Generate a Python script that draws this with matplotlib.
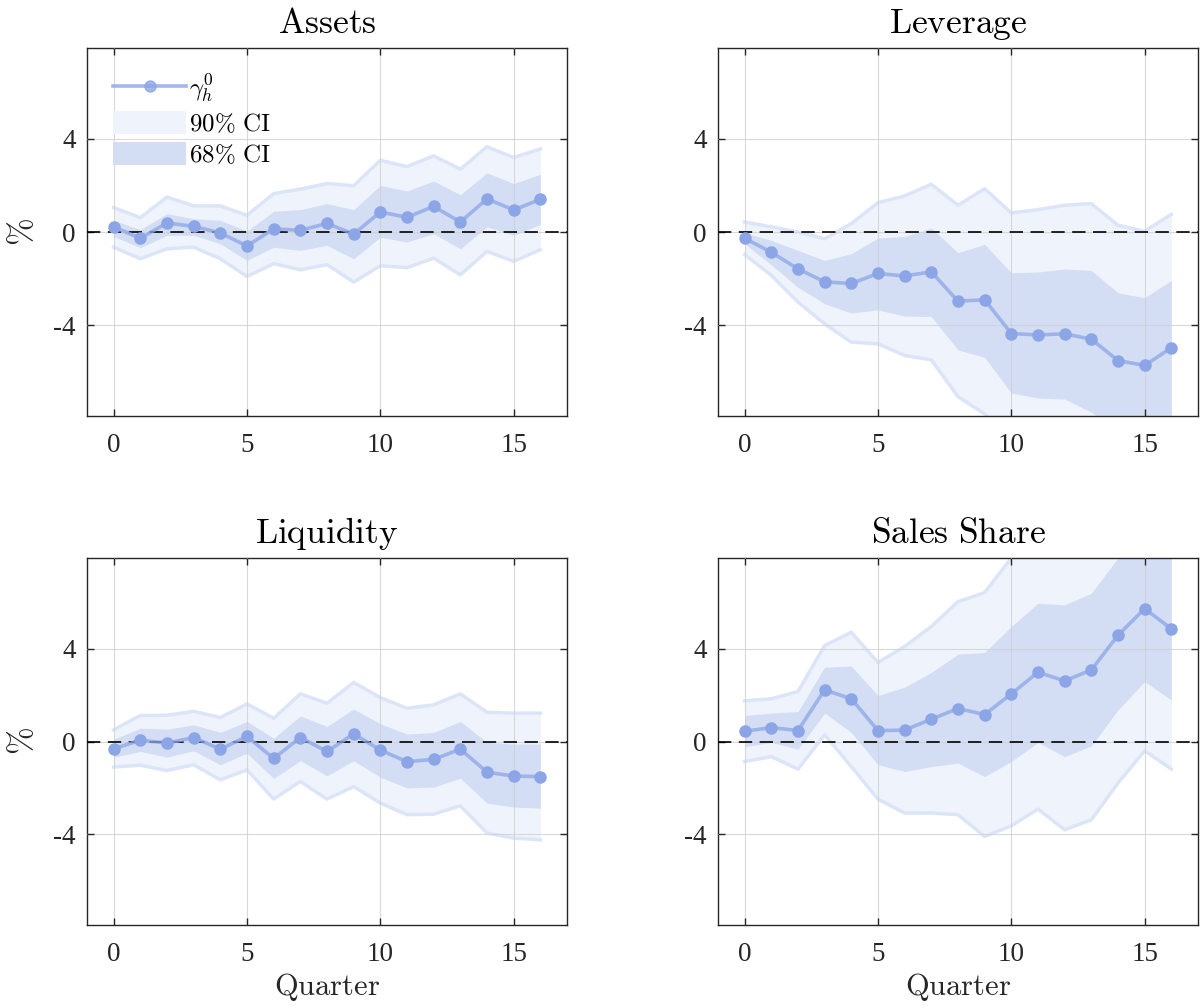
import numpy as np
import matplotlib
matplotlib.use("Agg")
import matplotlib.pyplot as plt
from matplotlib.patches import Patch
from matplotlib.lines import Line2D

plt.rcParams['font.family'] = ['Liberation Serif', 'DejaVu Serif']
plt.rcParams['mathtext.fontset'] = 'cm'
plt.rcParams['axes.unicode_minus'] = False

horizon = np.arange(17)

# Assets
assets_irf = [0.22, -0.27, 0.39, 0.24, -0.04, -0.60, 0.14, 0.07, 0.37, -0.09, 0.86, 0.63, 1.10, 0.43, 1.42, 0.95, 1.40]
assets_hi90 = [1.05, 0.62, 1.50, 1.12, 1.12, 0.72, 1.65, 1.84, 2.08, 1.99, 3.08, 2.81, 3.27, 2.70, 3.66, 3.20, 3.57]
assets_lo90 = [-0.65, -1.15, -0.72, -0.65, -1.15, -1.91, -1.36, -1.62, -1.40, -2.15, -1.45, -1.53, -1.12, -1.84, -0.83, -1.26, -0.76]
assets_hi68 = [0.50, 0.10, 0.79, 0.57, 0.50, 0.04, 0.89, 0.96, 1.22, 0.96, 2.00, 1.76, 2.19, 1.60, 2.54, 2.08, 2.48]
assets_lo68 = [-0.19, -0.67, -0.14, -0.14, -0.50, -1.22, -0.65, -0.79, -0.57, -1.15, -0.22, -0.43, -0.07, -0.72, 0.22, -0.14, 0.33]

# Leverage
lev_irf = [-0.27, -0.87, -1.58, -2.14, -2.21, -1.78, -1.89, -1.71, -2.97, -2.91, -4.36, -4.42, -4.37, -4.60, -5.52, -5.73, -4.97]
lev_hi90 = [0.43, 0.22, 0.00, -0.29, 0.36, 1.26, 1.55, 2.05, 1.15, 1.86, 0.82, 0.96, 1.15, 1.22, 0.29, 0.03, 0.76]
lev_lo90 = [-0.97, -1.86, -3.01, -3.94, -4.73, -4.80, -5.30, -5.49, -7.07, -7.81, -9.0, -9.2, -9.5, -10.0, -11.0, -11.5, -11.0]
lev_hi68 = [-0.04, -0.36, -0.79, -1.22, -0.93, -0.26, -0.19, 0.17, -0.89, -0.53, -1.75, -1.72, -1.59, -1.65, -2.61, -2.82, -2.08]
lev_lo68 = [-0.50, -1.41, -2.37, -3.08, -3.48, -3.34, -3.61, -3.63, -5.06, -5.38, -6.91, -7.13, -7.17, -7.74, -8.5, -8.8, -9.0]

# Liquidity
liq_irf = [-0.32, 0.06, -0.07, 0.17, -0.33, 0.22, -0.73, 0.17, -0.43, 0.33, -0.37, -0.87, -0.77, -0.33, -1.32, -1.49, -1.51]
liq_hi90 = [0.50, 1.12, 1.13, 1.30, 1.03, 1.62, 1.00, 2.05, 1.65, 2.54, 1.89, 1.43, 1.58, 2.05, 1.26, 1.22, 1.22]
liq_lo90 = [-1.10, -1.02, -1.25, -1.00, -1.65, -1.22, -2.48, -1.72, -2.48, -1.94, -2.65, -3.15, -3.13, -2.77, -3.94, -4.16, -4.23]
liq_hi68 = [0.10, 0.57, 0.53, 0.72, 0.39, 0.86, 0.14, 1.10, 0.65, 1.40, 0.76, 0.32, 0.39, 0.86, -0.04, -0.11, -0.11]
liq_lo68 = [-0.67, -0.43, -0.67, -0.40, -1.00, -0.50, -1.59, -0.82, -1.48, -0.83, -1.53, -2.00, -1.96, -1.58, -2.65, -2.82, -2.87]

# Sales share
sales_irf = [0.44, 0.60, 0.47, 2.22, 1.84, 0.47, 0.49, 0.96, 1.42, 1.16, 2.05, 2.98, 2.61, 3.08, 4.57, 5.72, 4.85]
sales_hi90 = [1.75, 1.84, 2.15, 4.13, 4.70, 3.40, 4.09, 4.95, 6.02, 6.41, 7.90, 9.0, 9.5, 10.0, 10.5, 11.0, 11.5]
sales_lo90 = [-0.86, -0.65, -1.19, 0.29, -1.08, -2.48, -3.08, -3.08, -3.15, -4.09, -3.63, -2.91, -3.80, -3.37, -1.79, -0.40, -1.18]
sales_hi68 = [1.12, 1.22, 1.29, 3.20, 3.25, 1.98, 2.34, 2.97, 3.76, 3.83, 4.95, 5.95, 5.88, 6.38, 7.90, 9.0, 9.0]
sales_lo68 = [-0.22, -0.04, -0.33, 1.22, 0.39, -1.00, -1.29, -1.08, -0.93, -1.51, -0.86, -0.04, -0.65, -0.19, 1.36, 2.58, 1.79]

titles = ['Assets', 'Leverage', 'Liquidity', 'Sales Share']
panels = [
    (assets_irf, assets_lo90, assets_hi90, assets_lo68, assets_hi68),
    (lev_irf, lev_lo90, lev_hi90, lev_lo68, lev_hi68),
    (liq_irf, liq_lo90, liq_hi90, liq_lo68, liq_hi68),
    (sales_irf, sales_lo90, sales_hi90, sales_lo68, sales_hi68),
]

c_line = '#8ba5e6'
c_90 = '#eff3fb'
c_90edge = '#dce5f8'
c_68 = '#d3ddf4'
ink = '#262626'

fig = plt.figure(figsize=(12, 10.07), dpi=100)
positions = [
    [0.0725, 0.5869, 0.4, 0.3654],
    [0.5983, 0.5869, 0.4, 0.3654],
    [0.0725, 0.0814, 0.4, 0.3645],
    [0.5983, 0.0814, 0.4, 0.3645],
]

for k, (pos, title, data) in enumerate(zip(positions, titles, panels)):
    irf, lo90, hi90, lo68, hi68 = [np.array(d) for d in data]
    ax = fig.add_axes(pos)
    ax.fill_between(horizon, lo90, hi90, color=c_90, lw=0, zorder=1)
    ax.plot(horizon, hi90, color=c_90edge, lw=2.5, zorder=1.2)
    ax.plot(horizon, lo90, color=c_90edge, lw=2.5, zorder=1.2)
    ax.fill_between(horizon, lo68, hi68, color=c_68, lw=0, zorder=1.5)
    ax.axhline(0, color='black', lw=1.2, ls=(0, (8, 4.5)), zorder=2.6)
    ax.plot(horizon, irf, color=c_line, lw=2.6, alpha=0.75, zorder=3)
    ax.plot(horizon, irf, ls='none', marker='o', ms=8, color=c_line, zorder=3.1)

    ax.set_xlim(-1, 17)
    ax.set_ylim(-7.9, 7.9)
    ax.set_xticks([0, 5, 10, 15])
    ax.set_yticks([-4, 0, 4])
    ax.set_axisbelow(False)
    ax.grid(True, color='#d0d0d0', lw=0.8, alpha=0.8)
    ax.tick_params(direction='in', length=5, width=1, top=True, right=True,
                   labelsize=19.5, colors=ink)
    ax.tick_params(axis='x', pad=12)
    ax.tick_params(axis='y', pad=8)
    for sp in ax.spines.values():
        sp.set_color(ink)
        sp.set_linewidth(1.0)
    ax.set_title(r'$\mathrm{' + title.replace(' ', r'\ ') + '}$', fontsize=25.5, pad=11, color='black')
    if k % 2 == 0:
        ax.set_ylabel(r'$\%$', fontsize=24, color=ink, labelpad=10)
    if k >= 2:
        ax.set_xlabel(r'$\mathrm{Quarter}$', fontsize=22, color=ink, labelpad=3)

    if k == 0:
        handles = [
            Line2D([], [], color=c_line, lw=2.6, marker='o', ms=8, alpha=0.8),
            Patch(facecolor=c_90, edgecolor='none'),
            Patch(facecolor=c_68, edgecolor='none'),
        ]
        labels = [r'$\gamma_h^0$', r'$\mathrm{90\%\ CI}$', r'$\mathrm{68\%\ CI}$']
        ax.legend(handles, labels, loc='upper left', bbox_to_anchor=(0.055, 0.935),
                  frameon=False, fontsize=18, handlelength=2.9, handleheight=1.05,
                  handletextpad=0.12, labelspacing=0.25, borderpad=0, borderaxespad=0)

fig.savefig('out.png', dpi=100)
